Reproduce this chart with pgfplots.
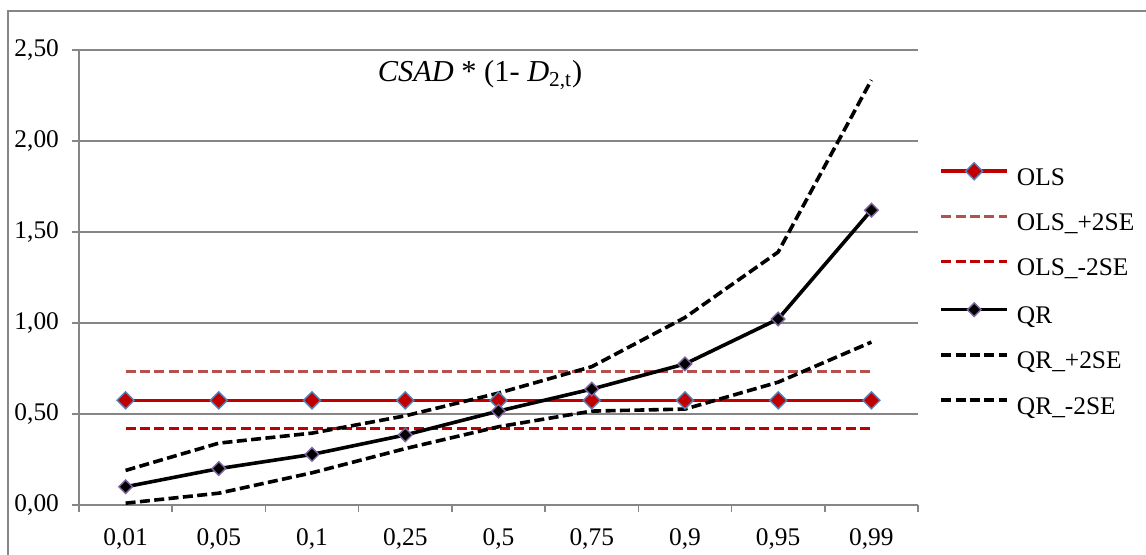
\documentclass[border=0pt]{standalone}
\usepackage{fontspec}
\setmainfont{Liberation Serif}
\usepackage{pgfplots}
\pgfplotsset{compat=1.18}

\definecolor{olsred}{HTML}{C00000}
\definecolor{olsup}{HTML}{B5504D}
\definecolor{mkblue}{HTML}{4F81BD}
\definecolor{mkpurple}{HTML}{8064A2}
\definecolor{gridgray}{HTML}{868686}

\pgfplotstableread{
x  ols    olsp   olsm   qr     qrp    qrm
0  0.575  0.733  0.420  0.100  0.190  0.010
1  0.575  0.733  0.420  0.200  0.340  0.065
2  0.575  0.733  0.420  0.278  0.395  0.177
3  0.575  0.733  0.420  0.385  0.490  0.310
4  0.575  0.733  0.420  0.516  0.615  0.430
5  0.575  0.733  0.420  0.637  0.760  0.516
6  0.575  0.733  0.420  0.775  1.030  0.527
7  0.575  0.733  0.420  1.022  1.390  0.675
8  0.575  0.733  0.420  1.620  2.335  0.895
}\datatable

\begin{document}
\begin{tikzpicture}
\path[use as bounding box] (-39.5pt,-24.5pt) rectangle (533.5pt,252.5pt);
\draw[gridgray, line width=0.9pt] (-35.5pt,-30pt) -- (-35.5pt,247pt) -- (540pt,247pt);
\begin{axis}[
    at={(0,0)}, anchor=south west,
    scale only axis,
    width=419.5pt, height=227.5pt,
    xmin=-0.5, xmax=8.5,
    ymin=0, ymax=2.5,
    axis lines=left,
    axis line style={draw=gridgray, line width=0.8pt, -},
    xtick={0,...,8},
    xticklabels={{0,01},{0,05},{0,1},{0,25},{0,5},{0,75},{0,9},{0,95},{0,99}},
    minor xtick={-0.5,0.5,...,8.5},
    major x tick style={draw=none},
    minor x tick style={draw=gridgray, line width=0.8pt},
    ytick={0,0.5,1,1.5,2,2.5},
    yticklabels={{0,00},{0,50},{1,00},{1,50},{2,00},{2,50}},
    y tick style={draw=gridgray, line width=0.8pt},
    tick align=outside,
    major tick length=3.5pt,
    minor tick length=3.5pt,
    ymajorgrids=true,
    grid style={draw=gridgray, line width=0.75pt},
    tick label style={font=\fontsize{12.7}{15}\selectfont},
    yticklabel style={xshift=-3pt},
    xticklabel style={yshift=-4.8pt},
    clip=false,
    legend style={
        at={(1.025,0.753)}, anchor=north west,
        draw=none, fill=none, inner sep=0pt,
        font=\fontsize{12.7}{15}\selectfont,
        row sep=10.6pt,
        nodes={inner sep=0pt, text height=9pt, text depth=3pt},
    },
    legend cell align=left,
    legend image code/.code={
        \draw[#1, mark repeat=2, mark phase=2, yshift=4pt]
            plot coordinates {(0pt,0pt) (16.5pt,0pt) (33pt,0pt)};
        \path (37pt,0pt);
    },
]
\addplot[olsred, line width=1.8pt, mark=square*,
    mark options={rotate=45, solid, fill=olsred, draw=mkblue, line width=0.7pt},
    mark size=3pt]
    table[x=x, y=ols] {\datatable};
\addlegendentry{OLS}
\addplot[olsup, line width=1.8pt, dash pattern=on 5pt off 2.2pt]
    table[x=x, y=olsp] {\datatable};
\addlegendentry{OLS\_+2SE}
\addplot[olsred, line width=1.8pt, dash pattern=on 5pt off 2.2pt]
    table[x=x, y=olsm] {\datatable};
\addlegendentry{OLS\_-2SE}
\addplot[black, line width=1.8pt, mark=square*,
    mark options={rotate=45, solid, fill=black, draw=mkpurple, line width=0.7pt},
    mark size=2.4pt]
    table[x=x, y=qr] {\datatable};
\addlegendentry{QR}
\addplot[black, line width=1.8pt, dash pattern=on 5pt off 2.2pt]
    table[x=x, y=qrp] {\datatable};
\addlegendentry{QR\_+2SE}
\addplot[black, line width=1.8pt, dash pattern=on 5pt off 2.2pt]
    table[x=x, y=qrm] {\datatable};
\addlegendentry{QR\_-2SE}
\node[anchor=base, font=\fontsize{15.2}{18}\selectfont]
    at (rel axis cs:0.478,0.93) {\textit{CSAD} * (1- \textit{D}\textsubscript{2,t})};
\end{axis}
\end{tikzpicture}
\end{document}
